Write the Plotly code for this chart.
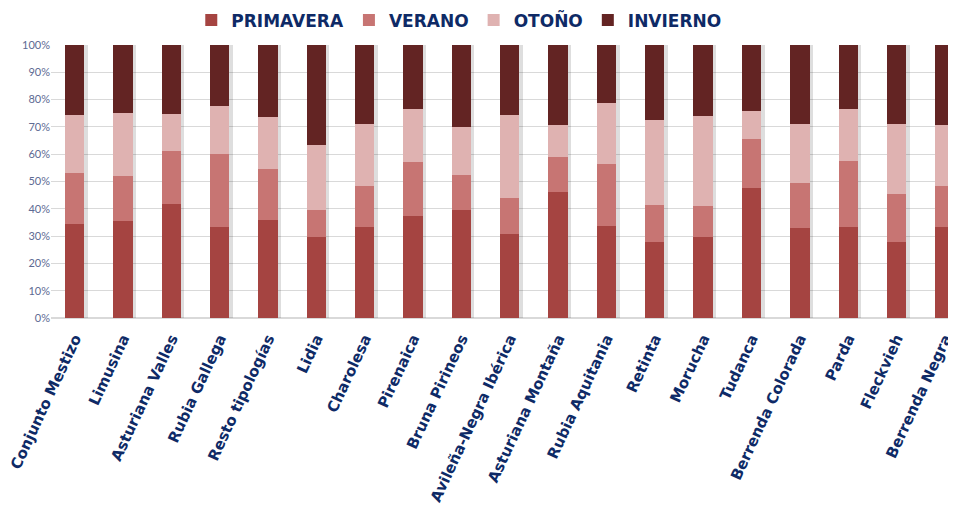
import plotly.graph_objects as go

categories = ["Conjunto Mestizo", "Limusina", "Asturiana Valles", "Rubia Gallega",
              "Resto tipologías", "Lidia", "Charolesa", "Pirenaica", "Bruna Pirineos",
              "Avileña-Negra Ibérica", "Asturiana Montaña", "Rubia Aquitania", "Retinta",
              "Morucha", "Tudanca", "Berrenda Colorada", "Parda", "Fleckvieh", "Berrenda Negra"]

primavera = [34.5, 35.7, 41.6, 33.5, 36.0, 29.7, 33.3, 37.3, 39.4, 30.7, 46.3, 33.7, 27.7, 29.5, 47.6, 33.0, 33.3, 27.7, 33.3]
verano    = [18.6, 16.3, 19.4, 26.4, 18.6, 9.7, 15.2, 19.9, 12.9, 13.4, 12.7, 22.8, 13.7, 11.6, 17.9, 16.3, 24.2, 17.8, 15.2]
otono     = [21.3, 23.2, 13.8, 17.8, 19.1, 24.1, 22.7, 19.5, 17.6, 30.2, 11.7, 22.4, 31.1, 33.0, 10.3, 21.9, 19.0, 25.4, 22.1]
invierno  = [25.6, 24.8, 25.2, 22.3, 26.3, 36.5, 28.8, 23.3, 30.1, 25.7, 29.3, 21.1, 27.5, 25.9, 24.2, 28.8, 23.5, 29.1, 29.4]

series = [("PRIMAVERA", primavera, "#A54441"),
          ("VERANO", verano, "#C77573"),
          ("OTOÑO", otono, "#DFB2B1"),
          ("INVIERNO", invierno, "#632423")]

totals = [p + v + o + i for p, v, o, i in zip(primavera, verano, otono, invierno)]

navy = "#0E2A66"
label_font = "'DejaVu Sans', sans-serif"
xrange = [-0.49, 18.23]

fig = go.Figure()
# soft drop shadow behind each stacked bar (main axes, drawn beneath)
fig.add_trace(go.Bar(x=categories, y=totals, showlegend=False, hoverinfo="skip",
                     width=0.4, offset=-0.2 + 0.07,
                     marker=dict(color="rgba(0,0,0,0.13)", line=dict(width=0)),
                     xaxis="x", yaxis="y"))
for name, vals, color in series:
    fig.add_trace(go.Bar(x=categories, y=vals, name=name,
                         width=0.4, offset=-0.2,
                         marker=dict(color=color, line=dict(width=0)),
                         xaxis="x2", yaxis="y2"))

fig.update_layout(
    barmode="stack",
    width=948, height=510,
    margin=dict(l=43, r=0, t=37, b=200, autoexpand=False),
    paper_bgcolor="white", plot_bgcolor="white",
    font=dict(family=label_font, color=navy),
    legend=dict(orientation="h", x=0.155, xanchor="left", y=1.09, yanchor="middle",
                font=dict(size=17, color=navy, weight="bold", family=label_font),
                traceorder="normal", itemclick=False),
    showlegend=True,
    xaxis=dict(
        tickangle=-65,
        tickfont=dict(size=15, color=navy, weight="bold", family=label_font),
        range=xrange, showgrid=False, showline=False, ticks="",
        automargin=False, ticklabelstandoff=8,
    ),
    yaxis=dict(
        range=[0, 100], dtick=10, ticksuffix="%",
        tickfont=dict(size=11, color="#5D6A93", family="Lato, sans-serif"),
        showgrid=True, gridcolor="#D9D9D9", gridwidth=1,
        zeroline=True, zerolinecolor="#D9D9D9",
        showline=False, ticks="", automargin=False,
    ),
    xaxis2=dict(overlaying="x", matches="x", range=xrange, showticklabels=False,
                showgrid=False, showline=False, ticks="", automargin=False),
    yaxis2=dict(overlaying="y", range=[0, 100], showticklabels=False,
                showgrid=False, zeroline=False, showline=False, ticks="", automargin=False),
)

fig.write_html("out.html")
